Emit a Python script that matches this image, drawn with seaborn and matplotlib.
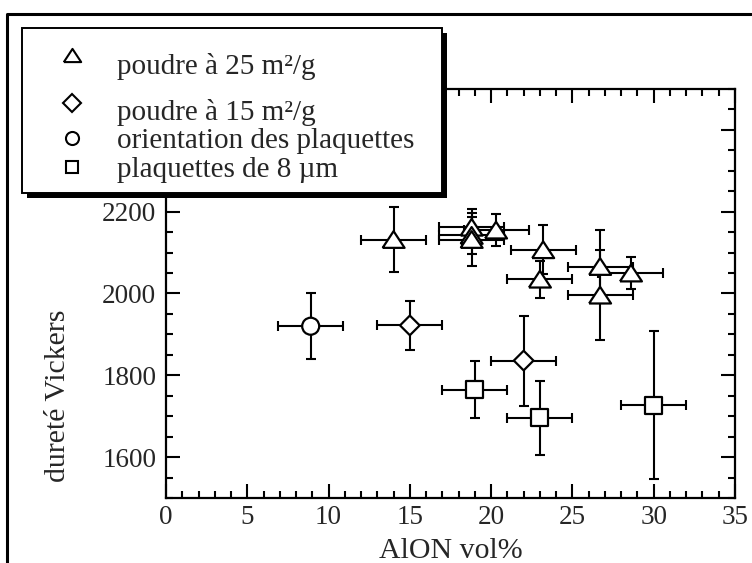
import numpy as np
import pandas as pd
import matplotlib
matplotlib.use("Agg")
import matplotlib.pyplot as plt
from matplotlib.lines import Line2D
from matplotlib.patches import Rectangle
from matplotlib.markers import MarkerStyle
from matplotlib.ticker import MultipleLocator, FixedLocator
from matplotlib.legend_handler import HandlerLine2D
import seaborn as sns

# ---- data: Vickers hardness vs AlON content ----
tri_x = [14.0, 18.8, 18.8, 18.8, 20.3, 23.2, 23.0, 26.7, 26.7, 28.6]
tri_y = [2132, 2162, 2142, 2132, 2155, 2107, 2035, 2066, 1996, 2050]
tri_xerr = [2.0, 2.0, 2.0, 2.0, 2.0, 2.0, 2.0, 2.0, 2.0, 2.0]
tri_yerr = [80, 45, 45, 65, 40, 60, 45, 90, 110, 40]

dia_x = [15.0, 22.0]
dia_y = [1922, 1836]
dia_xerr = [2.0, 2.0]
dia_yerr = [60, 110]

circ_x = [8.9]
circ_y = [1920]
circ_xerr = [2.0]
circ_yerr = [80]

sq_x = [19.0, 23.0, 30.0]
sq_y = [1765, 1696, 1727]
sq_xerr = [2.0, 2.0, 2.0]
sq_yerr = [70, 90, 181]

labels = ["poudre à 25 m²/g", "poudre à 15 m²/g",
          "orientation des plaquettes", "plaquettes de 8 µm"]

x_ticks = [0, 5, 10, 15, 20, 25, 30, 35]
y_ticks = [1600, 1800, 2000, 2200, 2400]
y_tick_labels = ["1600", "1800", "2000", "2200", ""]   # 2400 sits under the legend box
x_label = "AlON vol%"
y_label = "dureté Vickers"

# ---- style ----
sns.set_style("ticks")
plt.rcParams["font.family"] = ["Liberation Serif", "DejaVu Serif"]

W, H = 752, 563
fig = plt.figure(figsize=(W / 100, H / 100), dpi=100)
fig.patch.set_facecolor("white")
ax = fig.add_axes([166 / W, (H - 498) / H, (735 - 166) / W, (498 - 89) / H])
ax.set_facecolor("white")

# wide, flat open triangle
tri_marker = MarkerStyle(np.array([[-1.0, -0.76], [1.0, -0.76], [0.0, 0.76], [-1.0, -0.76]]))

series = [
    (labels[0], tri_x, tri_y, tri_xerr, tri_yerr),
    (labels[1], dia_x, dia_y, dia_xerr, dia_yerr),
    (labels[2], circ_x, circ_y, circ_xerr, circ_yerr),
    (labels[3], sq_x, sq_y, sq_xerr, sq_yerr),
]

frames = []
for name, xs, ys, xe, ye in series:
    frames.append(pd.DataFrame({"x": xs, "y": ys, "xerr": xe, "yerr": ye, "series": name}))
df = pd.concat(frames, ignore_index=True)

# error bars first, markers (white filled) on top
ax.errorbar(df["x"], df["y"], xerr=df["xerr"], yerr=df["yerr"], fmt="none",
            ecolor="black", elinewidth=1.5, capsize=3.7, capthick=1.5, zorder=2)

marker_map = {labels[0]: tri_marker, labels[1]: "D", labels[2]: "o", labels[3]: "s"}
size_map = {labels[0]: 250, labels[1]: 100, labels[2]: 150, labels[3]: 150}
sns.scatterplot(data=df, x="x", y="y", style="series", markers=marker_map,
                size="series", sizes=size_map, color="white", edgecolor="black",
                linewidth=1.6, legend=False, zorder=3, ax=ax)

# ---- axes ----
ax.set_xlim(0, 35)
ax.set_ylim(1500, 2500)
ax.set_xticks(x_ticks)
ax.xaxis.set_minor_locator(MultipleLocator(1))
ax.set_yticks(y_ticks, y_tick_labels)
ax.yaxis.set_minor_locator(MultipleLocator(50))
ax.tick_params(which="both", direction="in", top=True, right=True,
               width=1.5, color="black")
ax.tick_params(which="major", length=10)
ax.tick_params(which="minor", length=5)
ax.tick_params(axis="x", which="major", labelsize=19.5, pad=5)
ax.tick_params(axis="y", which="major", labelsize=19.5, pad=7)
for sp in ax.spines.values():
    sp.set_linewidth(1.6)
    sp.set_color("black")

ax.set_xlabel(x_label, fontsize=21.5)
ax.xaxis.set_label_coords(0.5, -(551 - 498) / 409)
ax.xaxis.label.set_va("center")
ax.set_ylabel(y_label, fontsize=21.5)
ax.yaxis.label.set_va("center")
ax.yaxis.set_label_coords((58 - 166) / 569, (498 - 396) / 409)

# ---- outer frame ----
fig.add_artist(Line2D([7 / W, 7 / W, 0.999], [0.0, 1 - 14 / H, 1 - 14 / H],
                      transform=fig.transFigure, color="black", lw=2.2, zorder=1))

# ---- legend box with drop shadow ----
x0, y0, x1, y1 = 22, 28, 442, 193
fig.add_artist(Rectangle(((x0 + 5) / W, 1 - (y1 + 5) / H), (x1 - x0) / W, (y1 - y0) / H,
                         transform=fig.transFigure, facecolor="black",
                         edgecolor="none", zorder=1))
fig.add_artist(Rectangle((x0 / W, 1 - y1 / H), (x1 - x0) / W, (y1 - y0) / H,
                         transform=fig.transFigure, facecolor="white",
                         edgecolor="black", lw=1.4, zorder=1.1))


class RaisedMarker(HandlerLine2D):
    """Legend handler that lifts the marker by dy points."""

    def __init__(self, dy=0.0, **kw):
        super().__init__(**kw)
        self.dy = dy

    def create_artists(self, legend, orig_handle, xdescent, ydescent,
                       width, height, fontsize, trans):
        arts = super().create_artists(legend, orig_handle, xdescent, ydescent,
                                      width, height, fontsize, trans)
        for a in arts:
            a.set_ydata(np.asarray(a.get_ydata(), dtype=float) + self.dy)
        return arts


handles = [
    Line2D([], [], ls="none", marker=tri_marker, ms=12.5, mfc="white", mec="black", mew=1.5),
    Line2D([], [], ls="none", marker="D", ms=9.0, mfc="white", mec="black", mew=1.5),
    Line2D([], [], ls="none", marker="o", ms=9.4, mfc="white", mec="black", mew=1.5),
    Line2D([], [], ls="none", marker="s", ms=8.8, mfc="white", mec="black", mew=1.5),
]
row_y = [66, 113, 141, 170]      # vertical centre of each legend row (px from top)
raise_pts = [6.0, 5.0, 0.0, 0.0]
fs = 21
for h, lab, yy, dy in zip(handles, labels, row_y, raise_pts):
    fig.legend(handles=[h], labels=[lab], loc="center left",
               bbox_to_anchor=((72 - fs * 100 / 72) / W, 1 - yy / H),
               bbox_transform=fig.transFigure, frameon=False, fontsize=fs,
               handlelength=2.0, handletextpad=0.55, borderpad=0, borderaxespad=0,
               handler_map={h: RaisedMarker(dy=dy)})

fig.savefig("out.png", dpi=100, facecolor="white")
